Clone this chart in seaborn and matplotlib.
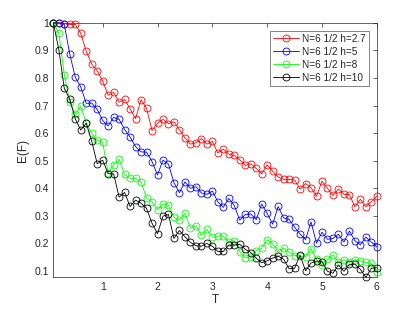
import numpy as np
import pandas as pd
import matplotlib
matplotlib.use("Agg")
import matplotlib.pyplot as plt
import seaborn as sns
from matplotlib.ticker import FuncFormatter

T = [round(0.1 * i, 1) for i in range(1, 61)]

red = [1.0, 1.0, 0.997, 0.994, 0.994, 0.962, 0.897, 0.85, 0.826, 0.789,
       0.737, 0.748, 0.712, 0.722, 0.688, 0.652, 0.721, 0.69, 0.609, 0.636,
       0.65, 0.634, 0.641, 0.613, 0.583, 0.56, 0.565, 0.58, 0.56, 0.57,
       0.528, 0.542, 0.524, 0.519, 0.503, 0.483, 0.489, 0.472, 0.452, 0.485,
       0.462, 0.441, 0.432, 0.432, 0.43, 0.397, 0.417, 0.402, 0.371, 0.426,
       0.4, 0.374, 0.397, 0.378, 0.377, 0.333, 0.36, 0.333, 0.351, 0.372]
blue = [1.0, 1.0, 0.994, 0.886, 0.803, 0.768, 0.708, 0.709, 0.686, 0.646,
        0.626, 0.657, 0.65, 0.613, 0.586, 0.551, 0.532, 0.531, 0.497, 0.448,
        0.502, 0.487, 0.42, 0.384, 0.423, 0.4, 0.406, 0.383, 0.378, 0.39,
        0.351, 0.331, 0.363, 0.338, 0.284, 0.305, 0.307, 0.286, 0.343, 0.309,
        0.27, 0.334, 0.293, 0.287, 0.259, 0.234, 0.214, 0.278, 0.201, 0.241,
        0.215, 0.218, 0.233, 0.205, 0.245, 0.21, 0.195, 0.223, 0.205, 0.187]
green = [1.0, 0.962, 0.812, 0.711, 0.669, 0.697, 0.636, 0.599, 0.576, 0.566,
         0.456, 0.485, 0.505, 0.45, 0.436, 0.436, 0.423, 0.365, 0.35, 0.323,
         0.343, 0.338, 0.295, 0.284, 0.309, 0.255, 0.264, 0.23, 0.251, 0.222,
         0.227, 0.227, 0.205, 0.209, 0.17, 0.148, 0.152, 0.173, 0.182, 0.214,
         0.199, 0.168, 0.184, 0.168, 0.156, 0.154, 0.151, 0.181, 0.143, 0.122,
         0.142, 0.158, 0.131, 0.141, 0.131, 0.141, 0.136, 0.131, 0.128, 0.098]
black = [1.0, 0.903, 0.762, 0.723, 0.652, 0.611, 0.636, 0.571, 0.489, 0.502,
         0.453, 0.452, 0.368, 0.385, 0.334, 0.357, 0.346, 0.327, 0.273, 0.235,
         0.299, 0.305, 0.218, 0.247, 0.224, 0.204, 0.192, 0.19, 0.2, 0.19,
         0.171, 0.171, 0.194, 0.194, 0.197, 0.179, 0.167, 0.147, 0.13, 0.137,
         0.147, 0.154, 0.143, 0.108, 0.11, 0.157, 0.101, 0.129, 0.136, 0.134,
         0.099, 0.092, 0.122, 0.099, 0.124, 0.125, 0.106, 0.077, 0.11, 0.112]

labels = ["N=6 1/2 h=2.7", "N=6 1/2 h=5", "N=6 1/2 h=8", "N=6 1/2 h=10"]
colors = ["#ff0000", "#0000ff", "#00ff00", "#000000"]
series = [red, blue, green, black]

sns.set_style("white")
plt.rcParams['font.family'] = ['Liberation Sans', 'DejaVu Sans']

fig = plt.figure(figsize=(4.15, 3.12), dpi=100)
ax = fig.add_axes([0.1285, 0.111, 0.7795, 0.816])

for lab, col, vals in zip(labels, colors, series):
    sns.lineplot(x=T, y=vals, ax=ax, color=col, linewidth=0.6,
                 marker='o', markersize=5, markerfacecolor='none',
                 markeredgecolor=col, markeredgewidth=0.6, label=lab,
                 clip_on=False, zorder=3)

ax.set_xlim(0.1, 6)
ax.set_ylim(0.077, 1.0)
ax.set_xticks([1, 2, 3, 4, 5, 6])
ax.set_yticks([0.1, 0.2, 0.3, 0.4, 0.5, 0.6, 0.7, 0.8, 0.9, 1.0])
ax.yaxis.set_major_formatter(FuncFormatter(lambda v, p: f"{v:g}"))
ax.tick_params(direction='in', length=3, width=0.5, labelsize=7.5,
               colors='#262626', top=True, right=True, pad=3)
for s in ax.spines.values():
    s.set_linewidth(0.5)
    s.set_color('#262626')
    s.set_visible(True)
ax.set_xlabel("T", fontsize=8.5, color='#262626', labelpad=2)
ax.set_ylabel("E(F)", fontsize=8.5, color='#262626', labelpad=4)

leg = ax.legend(loc='upper right', fontsize=7.2, frameon=True, fancybox=False,
                borderaxespad=0.8, handlelength=2.6, handletextpad=0.3,
                labelspacing=0.3, borderpad=0.3)
leg.get_frame().set_edgecolor('#262626')
leg.get_frame().set_linewidth(0.5)
leg.set_zorder(5)

fig.savefig("out.png", dpi=100)
